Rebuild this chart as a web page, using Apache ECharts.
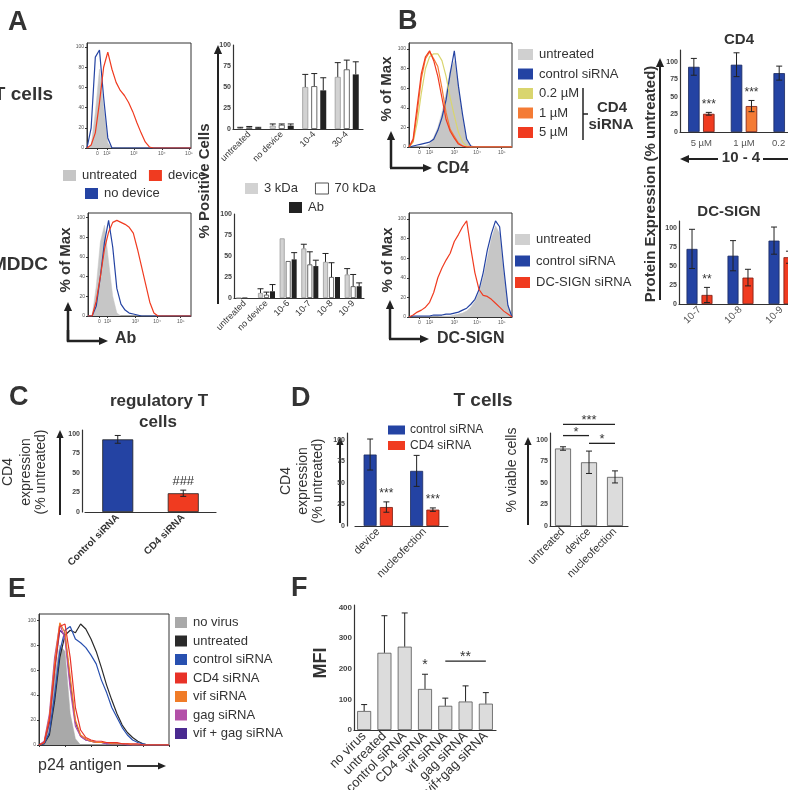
<!DOCTYPE html>
<html>
<head>
<meta charset="utf-8">
<script src="https://cdn.jsdelivr.net/npm/echarts@6/dist/echarts.min.js"></script>
<style>
  html, body { margin: 0; padding: 0; background: #fff; }
  #chart { width: 788px; height: 790px; }
</style>
</head>
<body>
<div id="chart"></div>
<script>
const FONT = '"Liberation Sans", Arial, Helvetica, sans-serif';
const INK = '#333';
const BLUE = '#2443a3', RED = '#f03b20', ORANGE = '#f47b35', YELLOW = '#d9d56e';
const LGRAY = '#c6c6c6';

// histogram bins: position across the plot box (0-100)
const BINS = [0,4,8,12,16,20,24,28,32,36,40,44,48,52,56,60,64,68,72,76,80,84,88,92,96,100];

// A - T cells histogram
const A_T_UNTREATED = [0,3,35,78,40,5,0,0,0,0,0,0,0,0,0,0,0,0,0,0,0,0,0,0,0,0];
const A_T_NODEVICE  = [0,20,90,97,50,10,0,0,0,0,0,0,0,0,0,0,0,0,0,0,0,0,0,0,0,0];
const A_T_DEVICE    = [0,3,15,45,80,95,78,65,57,52,45,36,25,15,6,1,0,0,0,0,0,0,0,0,0,0];
// A - MDDC histogram
const A_M_UNTREATED = [0,0,30,75,92,55,20,3,0,0,0,0,0,0,0,0,0,0,0,0,0,0,0,0,0,0];
const A_M_NODEVICE  = [0,0,10,40,75,97,70,28,12,6,3,2,1,0,0,0,0,0,0,0,0,0,0,0,0,0];
const A_M_DEVICE    = [0,0,15,40,68,85,95,97,95,93,90,84,68,50,32,14,3,0,0,0,0,0,0,0,0,0];
const A_T_TICKS = [10,19,45,72,98];
const A_M_TICKS = [11,19,46,67,90];
const LOG_LABELS = ['0','10²','10³','10⁴','10⁵'];

// A - % positive cells
const A1_CATS = ['untreated','no device','10-4','30-4'];
const A1_3K = [1,4,50,62],  A1_3K_ERR = [1,2,15,17];
const A1_70K = [2,5,51,71], A1_70K_ERR = [1,1,15,11];
const A1_AB = [1,4,46,65],  A1_AB_ERR = [1,2,15,15];
const A2_CATS = ['untreated','no device','10-6','10-7','10-8','10-9'];
const A2_3K = [0,6,71,59,43,28],  A2_3K_ERR = [0,5,0,5,10,7];
const A2_70K = [0,4,44,40,25,14], A2_70K_ERR = [0,3,0,15,17,14];
const A2_AB = [0,8,46,38,25,14],  A2_AB_ERR = [0,8,8,7,0,4];
const PCT_TICKS = [0,25,50,75,100];

// B - CD4 histogram
const B_C_UNTREATED = [0,0,0,0,1,3,10,20,35,55,78,88,62,30,6,1,0,0,0,0,0,0,0,0,0,0];
const B_C_CONTROL   = [0,1,2,3,4,5,8,17,30,48,75,98,62,33,8,1,0,0,0,0,0,0,0,0,0,0];
const B_C_02        = [0,5,25,55,80,92,95,95,88,72,50,32,15,5,1,0,0,0,0,0,0,0,0,0,0,0];
const B_C_1         = [0,6,35,70,90,97,90,82,60,35,18,11,4,1,0,0,0,0,0,0,0,0,0,0,0,0];
const B_C_5         = [0,8,42,75,92,98,88,72,50,28,16,9,3,1,0,0,0,0,0,0,0,0,0,0,0,0];
// B - DC-SIGN histogram
const B_D_UNTREATED = [0,0,0,0,0,0,0,0,1,1,1,2,3,4,6,10,16,25,40,60,80,93,85,45,10,0];
const B_D_CONTROL   = [0,1,1,1,1,1,2,2,2,3,3,4,5,7,9,13,18,28,45,68,85,98,92,50,12,0];
const B_D_SIRNA     = [0,2,5,7,10,15,25,40,50,58,65,77,84,92,98,70,45,28,22,21,18,14,10,6,3,0];
const B_TICKS = [10,20,44,66,90];
const HIST_Y_TICKS = [0,20,40,60,80,100];

// B - protein expression bars
const B1_CATS = ['5 µM','1 µM','0.2 µM'];
const B1_CTRL = [93,96,84], B1_CTRL_ERR = [12,17,10];
const B1_SI = [26,37,53],   B1_SI_ERR = [2,8,6];
const B1_STARS = ['***','***',''];
const B1_SI_COLORS = [RED, ORANGE, YELLOW];
const B2_CATS = ['10-7','10-8','10-9'];
const B2_CTRL = [73,64,84], B2_CTRL_ERR = [26,20,18];
const B2_SI = [12,35,62],   B2_SI_ERR = [10,11,8];
const B2_STARS = ['**','',''];

// C - regulatory T cells
const C_CATS = ['Control siRNA','CD4 siRNA'];
const C_VALS = [93,24], C_ERR = [5,4];
const C_MARKS = ['','###'];

// D - T cells
const D1_CATS = ['device','nucleofection'];
const D1_CTRL = [83,64], D1_CTRL_ERR = [18,18];
const D1_SI = [22,19],   D1_SI_ERR = [6,2];
const D1_STARS = ['***','***'];
const D2_CATS = ['untreated','device','nucleofection'];
const D2_VIABLE = [90,74,57], D2_VIABLE_ERR = [2,13,7];
const D2_SIG = [[0,2,118],[0,1,105],[1,2,96]];
const D2_SIG_LABELS = ['***','*','*'];

// E - p24 histogram
const E_NOVIRUS   = [0,3,20,55,80,75,25,5,0,0,0,0,0,0,0,0,0,0,0,0,0,0,0,0,0,0];
const E_UNTREATED = [0,1,8,35,70,88,92,90,97,93,85,75,62,48,36,25,16,10,6,3,1,0,0,0,0,0];
const E_CONTROL   = [0,1,10,40,75,92,95,85,82,78,72,65,52,42,30,22,14,8,4,2,1,0,0,0,0,0];
const E_CD4       = [0,2,20,60,95,97,70,30,12,6,4,3,3,2,2,2,1,1,1,1,0,0,0,0,0,0];
const E_VIF       = [0,2,22,65,98,90,55,20,8,5,3,2,2,2,1,1,1,1,0,0,0,0,0,0,0,0];
const E_GAG       = [0,3,25,70,97,85,45,15,7,4,3,2,2,1,1,1,1,0,0,0,0,0,0,0,0,0];
const E_VIFGAG    = [0,2,18,60,92,88,50,18,7,4,3,2,2,1,1,1,1,0,0,0,0,0,0,0,0,0];

// F - MFI
const F_CATS = ['no virus','untreated','control siRNA','CD4 siRNA','vif siRNA','gag siRNA','vif+gag siRNA'];
const F_VALS = [62,252,272,134,79,93,86];
const F_ERR = [21,121,110,48,25,51,36];
const F_MARKS = ['','','','*','','',''];
const F_SIG = [[4,6,225]];
const F_SIG_LABELS = ['**'];
const F_TICKS = [0,100,200,300,400];

// ---------- helpers
const grids = [
  {left: 87, top: 43, width: 104, height: 105},   // 0 A T-cell hist
  {left: 88, top: 213, width: 103, height: 103},  // 1 A MDDC hist
  {left: 233, top: 45, width: 130, height: 84},   // 2 A bars top
  {left: 234, top: 214, width: 130, height: 84},  // 3 A bars bottom
  {left: 409, top: 43, width: 103, height: 104},  // 4 B CD4 hist
  {left: 409, top: 213, width: 103, height: 104}, // 5 B DC-SIGN hist
  {left: 680, top: 50, width: 128, height: 82},   // 6 B CD4 bars
  {left: 679, top: 221, width: 123, height: 83},  // 7 B DC-SIGN bars
  {left: 85, top: 430, width: 131, height: 82},   // 8 C
  {left: 355, top: 433, width: 93, height: 93},   // 9 D left
  {left: 550, top: 433, width: 78, height: 93},   // 10 D right
  {left: 39, top: 614, width: 130, height: 131},  // 11 E hist
  {left: 354, top: 605, width: 142, height: 125}  // 12 F
].map((g, i) => Object.assign({outerBoundsMode: 'none', containLabel: false},
  [0, 1, 4, 5, 11].includes(i) ? {show: true, borderColor: '#333', borderWidth: 1} : {}, g));

const xAxes = [], yAxes = [], series = [];

function histAxes(gi, ticks, ymax) {
  xAxes[gi] = {type: 'value', gridIndex: gi, min: 0, max: 100, splitLine: {show: false},
    axisLine: {lineStyle: {color: INK}},
    axisTick: ticks ? {customValues: ticks, length: 2, lineStyle: {color: INK}} : {interval: 4, length: 2},
    axisLabel: ticks ? {customValues: ticks, formatter: v => LOG_LABELS[ticks.indexOf(v)],
      fontSize: 5, color: '#555', margin: 3} : {show: false}};
  yAxes[gi] = {type: 'value', gridIndex: gi, min: 0, max: ymax, splitLine: {show: false},
    axisLine: {show: true, lineStyle: {color: INK}},
    axisTick: {customValues: HIST_Y_TICKS, length: 2, lineStyle: {color: INK}},
    axisLabel: {customValues: HIST_Y_TICKS, fontSize: 5, color: '#555', margin: 3}};
}
function hist(gi, name, vals, color, filled) {
  series.push({type: 'line', name, xAxisIndex: gi, yAxisIndex: gi, silent: true,
    data: BINS.map((x, i) => [x, vals[i]]), symbol: 'none', color,
    lineStyle: {width: filled ? 0.5 : 1.2, color},
    areaStyle: filled ? {color, opacity: 1} : null, z: filled ? 1 : 3});
}
function barAxes(gi, cats, ymax, ticks, lab, yOff) {
  xAxes[gi] = {type: 'category', gridIndex: gi, data: cats,
    axisLine: {lineStyle: {color: INK, width: 1.2}}, axisTick: {show: false},
    axisLabel: Object.assign({interval: 0, color: INK, margin: 4, fontSize: 9}, lab)};
  yAxes[gi] = {type: 'value', gridIndex: gi, min: 0, max: ymax, offset: yOff || 0, splitLine: {show: false},
    axisLine: {show: true, lineStyle: {color: INK, width: 1.2}},
    axisTick: {customValues: ticks, length: 3, lineStyle: {color: INK}},
    axisLabel: {customValues: ticks, fontSize: 7, fontWeight: 'bold', color: '#444', margin: 2}};
}
function bars(gi, name, vals, style, w, gap, colors) {
  series.push({type: 'bar', name, xAxisIndex: gi, yAxisIndex: gi, silent: true,
    barWidth: w, barGap: (gap * 100) + '%',
    data: colors ? vals.map((v, i) => ({value: v, itemStyle: {color: colors[i]}})) : vals,
    itemStyle: style});
}
function offsets(n, w, gap) {
  const step = w * (1 + gap);
  return Array.from({length: n}, (_, i) => (i - (n - 1) / 2) * step);
}
function errBars(gi, vals, errs, dx, both, marks, markSize) {
  series.push({type: 'custom', xAxisIndex: gi, yAxisIndex: gi, silent: true, z: 5,
    data: vals.map((v, i) => [i, v, errs[i]]),
    renderItem: (params, api) => {
      const i = api.value(0), v = api.value(1), e = api.value(2);
      const hi = api.coord([i, v + e]);
      const lo = api.coord([i, both ? v - e : v]);
      const x = hi[0] + dx, cap = 3;
      const st = {stroke: '#222', lineWidth: 1};
      const kids = [];
      if (e > 0) {
        kids.push({type: 'line', shape: {x1: x, y1: hi[1], x2: x, y2: lo[1]}, style: st});
        kids.push({type: 'line', shape: {x1: x - cap, y1: hi[1], x2: x + cap, y2: hi[1]}, style: st});
        if (both) kids.push({type: 'line', shape: {x1: x - cap, y1: lo[1], x2: x + cap, y2: lo[1]}, style: st});
      }
      const m = marks && marks[params.dataIndex];
      if (m) kids.push({type: 'text', x: x, y: hi[1] - 2, style: {text: m, fill: INK,
        font: (markSize || 13) + 'px ' + FONT, align: 'center', verticalAlign: 'bottom'}});
      return {type: 'group', children: kids};
    }});
}
function sigLines(gi, segs, labels, size) {
  series.push({type: 'custom', xAxisIndex: gi, yAxisIndex: gi, silent: true, z: 6,
    encode: {x: [0, 1], y: 2}, data: segs,
    renderItem: (params, api) => {
      const a = api.coord([api.value(0), api.value(2)]);
      const b = api.coord([api.value(1), api.value(2)]);
      return {type: 'group', children: [
        {type: 'line', shape: {x1: a[0], y1: a[1], x2: b[0], y2: b[1]}, style: {stroke: '#222', lineWidth: 1.3}},
        {type: 'text', x: (a[0] + b[0]) / 2, y: a[1] + 3, style: {text: labels[params.dataIndex], fill: INK,
          font: (size || 13) + 'px ' + FONT, align: 'center', verticalAlign: 'bottom'}}]};
    }});
}

// ---------- panel A
histAxes(0, A_T_TICKS, 104);
hist(0, 'untreated', A_T_UNTREATED, LGRAY, true);
hist(0, 'no device', A_T_NODEVICE, BLUE);
hist(0, 'device', A_T_DEVICE, RED);
histAxes(1, A_M_TICKS, 104.5);
hist(1, 'untreated', A_M_UNTREATED, LGRAY, true);
hist(1, 'no device', A_M_NODEVICE, BLUE);
hist(1, 'device', A_M_DEVICE, RED);

const S3K = {color: '#d2d2d2', borderColor: '#999', borderWidth: 0.8};
const S70K = {color: '#fff', borderColor: '#444', borderWidth: 0.8};
const SAB = {color: '#222'};
const rotLab = {rotate: 45, fontSize: 9};
barAxes(2, A1_CATS, 100, PCT_TICKS, rotLab);
bars(2, '3 kDa', A1_3K, S3K, 6, 0.5);
bars(2, '70 kDa', A1_70K, S70K, 6, 0.5);
bars(2, 'Ab', A1_AB, SAB, 6, 0.5);
let o = offsets(3, 6, 0.5);
errBars(2, A1_3K, A1_3K_ERR, o[0]);
errBars(2, A1_70K, A1_70K_ERR, o[1]);
errBars(2, A1_AB, A1_AB_ERR, o[2]);
barAxes(3, A2_CATS, 100, PCT_TICKS, rotLab);
bars(3, '3 kDa', A2_3K, S3K, 5, 0.2);
bars(3, '70 kDa', A2_70K, S70K, 5, 0.2);
bars(3, 'Ab', A2_AB, SAB, 5, 0.2);
o = offsets(3, 5, 0.2);
errBars(3, A2_3K, A2_3K_ERR, o[0]);
errBars(3, A2_70K, A2_70K_ERR, o[1]);
errBars(3, A2_AB, A2_AB_ERR, o[2]);

// ---------- panel B
histAxes(4, B_TICKS, 106);
hist(4, 'untreated', B_C_UNTREATED, LGRAY, true);
hist(4, 'control siRNA', B_C_CONTROL, BLUE);
hist(4, '0.2 µM', B_C_02, YELLOW);
hist(4, '1 µM', B_C_1, ORANGE);
hist(4, '5 µM', B_C_5, RED);
histAxes(5, B_TICKS, 106);
hist(5, 'untreated', B_D_UNTREATED, LGRAY, true);
hist(5, 'control siRNA', B_D_CONTROL, BLUE);
hist(5, 'DC-SIGN siRNA', B_D_SIRNA, RED);

const SBLUE = {color: BLUE, borderColor: '#1a2a60', borderWidth: 0.8};
const SRED = {color: RED, borderColor: '#7a1a10', borderWidth: 0.8};
barAxes(6, B1_CATS, 117, PCT_TICKS, {fontSize: 9.5, color: '#555', margin: 6});
bars(6, 'control siRNA', B1_CTRL, SBLUE, 11.5, 0.3);
bars(6, 'CD4 siRNA', B1_SI, {borderColor: '#7a1a10', borderWidth: 0.8}, 11.5, 0.3, B1_SI_COLORS);
o = offsets(2, 11.5, 0.3);
errBars(6, B1_CTRL, B1_CTRL_ERR, o[0], true);
errBars(6, B1_SI, B1_SI_ERR, o[1], true, B1_STARS, 12);
barAxes(7, B2_CATS, 110, PCT_TICKS, {rotate: 45, fontSize: 10, color: '#555'});
bars(7, 'control siRNA', B2_CTRL, SBLUE, 11, 0.36);
bars(7, 'DC-SIGN siRNA', B2_SI, SRED, 11, 0.36);
o = offsets(2, 11, 0.36);
errBars(7, B2_CTRL, B2_CTRL_ERR, o[0], true);
errBars(7, B2_SI, B2_SI_ERR, o[1], true, B2_STARS, 12);

// ---------- panel C
barAxes(8, C_CATS, 105, PCT_TICKS, {rotate: 45, fontSize: 10, fontWeight: 'bold'}, 3);
bars(8, 'C', C_VALS, {borderColor: '#222', borderWidth: 0.8}, 31, 0, [BLUE, RED]);
errBars(8, C_VALS, C_ERR, 0, true, C_MARKS, 13);

// ---------- panel D
barAxes(9, D1_CATS, 108, PCT_TICKS, {rotate: 45, fontSize: 11}, 8);
bars(9, 'control siRNA', D1_CTRL, SBLUE, 13, 0.25);
bars(9, 'CD4 siRNA', D1_SI, SRED, 13, 0.25);
o = offsets(2, 13, 0.25);
errBars(9, D1_CTRL, D1_CTRL_ERR, o[0], true);
errBars(9, D1_SI, D1_SI_ERR, o[1], true, D1_STARS, 12);
barAxes(10, D2_CATS, 108, PCT_TICKS, {rotate: 45, fontSize: 11});
bars(10, 'viable', D2_VIABLE, {color: '#dcdcdc', borderColor: '#555', borderWidth: 0.8}, 16, 0);
errBars(10, D2_VIABLE, D2_VIABLE_ERR, 0, true);
sigLines(10, D2_SIG, D2_SIG_LABELS, 13);

// ---------- panel E
histAxes(11, null, 105);
hist(11, 'no virus', E_NOVIRUS, '#a9a9a9', true);
hist(11, 'untreated', E_UNTREATED, '#2a2a2a');
hist(11, 'control siRNA', E_CONTROL, '#2850b0');
hist(11, 'vif + gag siRNA', E_VIFGAG, '#4a2a90');
hist(11, 'gag siRNA', E_GAG, '#b350a8');
hist(11, 'vif siRNA', E_VIF, '#f07c28');
hist(11, 'CD4 siRNA', E_CD4, '#e83228');

// ---------- panel F
barAxes(12, F_CATS, 408, F_TICKS, {rotate: 45, fontSize: 13});
yAxes[12].axisLabel.fontSize = 8;
bars(12, 'MFI', F_VALS, {color: '#dcdcdc', borderColor: '#555', borderWidth: 0.8}, 14, 0);
errBars(12, F_VALS, F_ERR, 0, false, F_MARKS, 14);
sigLines(12, F_SIG, F_SIG_LABELS, 14);

// ---------- legends
function legend(left, top, items, opts) {
  return Object.assign({left, top, padding: 0, icon: 'rect', itemWidth: 13, itemHeight: 11, itemGap: 10,
    selectedMode: false, textStyle: {fontSize: 13, color: INK, fontFamily: FONT, padding: [0, 0, 0, 1]},
    data: items.map(([name, color, border]) => ({name, itemStyle: {color, borderColor: border || color, borderWidth: border ? 1 : 0}}))},
    opts || {});
}
const legends = [
  legend(63, 169, [['untreated', LGRAY], ['device', RED]], {itemGap: 12}),
  legend(85, 187, [['no device', BLUE]]),
  legend(245, 182, [['3 kDa', '#d2d2d2'], ['70 kDa', '#fff', '#555']], {itemGap: 17}),
  legend(289, 201, [['Ab', '#222']]),
  legend(518, 48, [['untreated', '#d0d0d0'], ['control siRNA', BLUE], ['0.2 µM', YELLOW], ['1 µM', ORANGE], ['5 µM', RED]],
    {orient: 'vertical', itemWidth: 15, itemGap: 6.5}),
  legend(515, 233, [['untreated', '#d0d0d0'], ['control siRNA', BLUE], ['DC-SIGN siRNA', RED]],
    {orient: 'vertical', itemWidth: 15, itemGap: 8.5}),
  legend(388, 424, [['control siRNA', BLUE], ['CD4 siRNA', RED]],
    {orient: 'vertical', itemWidth: 17, itemHeight: 9, itemGap: 3.5, textStyle: {fontSize: 12, color: INK, fontFamily: FONT}}),
  legend(175, 616, [['no virus', '#a9a9a9'], ['untreated', '#2a2a2a'], ['control siRNA', '#2850b0'], ['CD4 siRNA', '#e83228'],
    ['vif siRNA', '#f07c28'], ['gag siRNA', '#b350a8'], ['vif + gag siRNA', '#4a2a90']],
    {orient: 'vertical', itemWidth: 12, itemHeight: 11, itemGap: 5.5})
];

// ---------- annotations
const g = [];
function txt(x, y, text, size, opts) {
  opts = opts || {};
  g.push({type: 'text', x, y, rotation: opts.rot ? Math.PI / 2 : 0, silent: true,
    style: {text, fill: opts.color || INK, align: opts.align || 'center', verticalAlign: 'middle',
      font: (opts.bold ? 'bold ' : '') + size + 'px ' + FONT}});
}
function arrow(x1, y1, x2, y2, w, head) {
  const a = Math.atan2(y2 - y1, x2 - x1), L = head || 8, H = (head || 8) * 0.45;
  const bx = x2 - L * Math.cos(a), by = y2 - L * Math.sin(a);
  const px = -Math.sin(a) * H, py = Math.cos(a) * H;
  g.push({type: 'line', silent: true, shape: {x1, y1, x2: bx, y2: by}, style: {stroke: '#222', lineWidth: w || 2}});
  if (head !== 0) g.push({type: 'polygon', silent: true, shape: {points: [[x2, y2], [bx + px, by + py], [bx - px, by - py]]}, style: {fill: '#222'}});
}
function line(x1, y1, x2, y2, w) {
  g.push({type: 'line', silent: true, shape: {x1, y1, x2, y2}, style: {stroke: '#222', lineWidth: w || 1.5}});
}

// panel letters
txt(8, 23, 'A', 27, {bold: true, align: 'left'});
txt(398, 22, 'B', 27, {bold: true, align: 'left'});
txt(9, 398, 'C', 27, {bold: true, align: 'left'});
txt(291, 399, 'D', 27, {bold: true, align: 'left'});
txt(8, 590, 'E', 27, {bold: true, align: 'left'});
txt(291, 589, 'F', 27, {bold: true, align: 'left'});

// A
txt(53, 95, 'T cells', 19, {bold: true, align: 'right'});
txt(48, 265, 'MDDC', 19, {bold: true, align: 'right'});
txt(66, 260, '% of Max', 15, {bold: true, rot: true});
line(68, 341, 68, 330, 2.5); arrow(68, 342, 68, 302, 2.5, 9); arrow(67, 341, 108, 341, 2.5, 9);
txt(115, 339, 'Ab', 16, {bold: true, align: 'left'});
txt(205, 181, '% Positive Cells', 15, {bold: true, rot: true});
arrow(218, 304, 218, 45, 2, 9);

// B
txt(387, 89, '% of Max', 15, {bold: true, rot: true});
arrow(391, 168, 391, 131, 2.5, 9); arrow(390, 168, 432, 168, 2.5, 9);
txt(437, 169, 'CD4', 16, {bold: true, align: 'left'});
txt(388, 260, '% of Max', 15, {bold: true, rot: true});
arrow(390, 339, 390, 300, 2.5, 9); arrow(389, 339, 429, 339, 2.5, 9);
txt(437, 339, 'DC-SIGN', 16, {bold: true, align: 'left'});
line(583, 88, 583, 140, 1.5); line(583, 114, 588, 114, 1.5);
txt(612, 108, 'CD4', 15, {bold: true});
txt(611, 125, 'siRNA', 15, {bold: true});
txt(739, 40, 'CD4', 15, {bold: true});
txt(741, 158, '10 - 4', 15, {bold: true});
arrow(718, 159, 680, 159, 2, 9); line(763, 159, 790, 159, 2);
txt(651, 184, 'Protein Expression (% untreated)', 15, {bold: true, rot: true});
arrow(660, 300, 660, 58, 2, 9);
txt(729, 212, 'DC-SIGN', 15, {bold: true});

// C
txt(159, 401, 'regulatory T', 17, {bold: true});
txt(158, 422, 'cells', 17, {bold: true});
txt(8, 472, 'CD4', 14, {rot: true});
txt(26, 472, 'expression', 14, {rot: true});
txt(41, 472, '(% untreated)', 14, {rot: true});
arrow(60, 515, 60, 430, 2, 8);

// D
txt(483, 401, 'T cells', 19, {bold: true});
txt(286, 481, 'CD4', 14, {rot: true});
txt(303, 481, 'expression', 14, {rot: true});
txt(318, 481, '(% untreated)', 14, {rot: true});
arrow(340, 523, 340, 437, 2, 8);
txt(512, 470, '% viable cells', 14, {rot: true});
arrow(528, 525, 528, 437, 2, 8);

// E
txt(38, 766, 'p24 antigen', 16, {align: 'left'});
arrow(127, 766, 166, 766, 1.8, 8);

// F
txt(321, 663, 'MFI', 18, {bold: true, rot: true});

const chart = echarts.init(document.getElementById('chart'), null, {renderer: 'canvas'});
chart.setOption({
  animation: false,
  backgroundColor: '#fff',
  textStyle: {fontFamily: FONT},
  grid: grids,
  xAxis: xAxes,
  yAxis: yAxes,
  legend: legends,
  series,
  graphic: {elements: g}
});
</script>
</body>
</html>
